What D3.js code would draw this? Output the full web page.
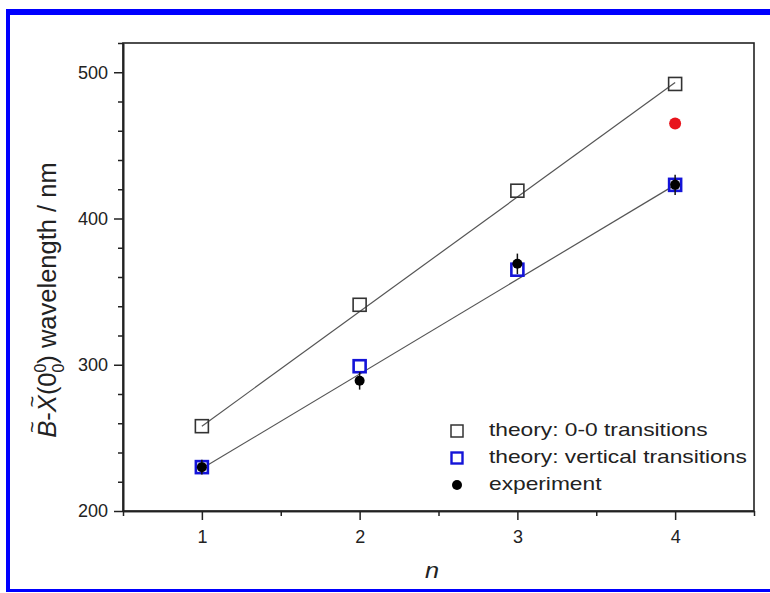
<!DOCTYPE html>
<html><head><meta charset="utf-8">
<script src="https://cdn.jsdelivr.net/npm/d3@7"></script>
<style>
body{margin:0;background:#fff;}
svg{display:block;}
text{font-family:"Liberation Sans",Arial,Helvetica,sans-serif;fill:#222;}
</style>
</head><body>
<svg id="chart" width="770" height="593"></svg>
<script>
// ---------- data ----------
const nValues = [1, 2, 3, 4];
const theory00 = [258, 341, 419, 492];
const theoryVert = [230, 299, 365, 423];
const experiment = [230, 289, 369, 423];
const experimentErr = [5, 6, 7, 7];
const redN = [4];
const redValue = [465];
const fit00N = [1, 4];
const fit00Values = [258, 493];
const fitVertN = [1, 4];
const fitVertValues = [229, 423];
const xTickValues = [1, 2, 3, 4];
const xMinorTickValues = [0.5, 1.5, 2.5, 3.5, 4.5];
const yTickValues = [200, 300, 400, 500];
const yMinorTickValues = [220, 240, 260, 280, 320, 340, 360, 380, 420, 440, 460, 480, 520];
const legendLabels = ["theory: 0-0 transitions", "theory: vertical transitions", "experiment"];

// ---------- layout ----------
const svg = d3.select("#chart");
const L = 123, R = 754, T = 43, B = 511;
const x = d3.scaleLinear().domain([0.5, 4.5]).range([L, R]);
const y = d3.scaleLinear().domain([200, 520]).range([B, T]);
const axisColor = "#222";

// blue page border
svg.append("rect").attr("x", 6).attr("y", 9).attr("width", 770).attr("height", 6).attr("fill", "#0000ff");
svg.append("rect").attr("x", 6).attr("y", 9).attr("width", 4).attr("height", 583).attr("fill", "#0000ff");
svg.append("rect").attr("x", 6).attr("y", 589).attr("width", 770).attr("height", 3).attr("fill", "#0000ff");

// frame
svg.append("rect").attr("x", L).attr("y", T).attr("width", R - L).attr("height", B - T)
  .attr("fill", "none").attr("stroke", axisColor).attr("stroke-width", 1.6);

// axes
function styleAxis(g) {
  g.select(".domain").attr("stroke", axisColor).attr("stroke-width", 1.6);
  g.selectAll(".tick line").attr("stroke", axisColor).attr("stroke-width", 1.5);
  g.selectAll(".tick text").attr("font-size", 18).attr("fill", "#222")
    .attr("font-family", '"Liberation Sans",Arial,sans-serif');
}
const yAxis = svg.append("g").attr("transform", `translate(${L},0)`)
  .call(d3.axisLeft(y).tickValues(yTickValues).tickSize(9).tickSizeOuter(0).tickPadding(6).tickFormat(d3.format("d")));
styleAxis(yAxis);
const yMinor = svg.append("g").attr("transform", `translate(${L},0)`)
  .call(d3.axisLeft(y).tickValues(yMinorTickValues).tickSize(5).tickSizeOuter(0).tickFormat(""));
styleAxis(yMinor);

const xAxis = svg.append("g").attr("transform", `translate(0,${B})`)
  .call(d3.axisBottom(x).tickValues(xTickValues).tickSize(9).tickSizeOuter(0).tickPadding(10).tickFormat(d3.format("d")));
styleAxis(xAxis);
const xMinor = svg.append("g").attr("transform", `translate(0,${B})`)
  .call(d3.axisBottom(x).tickValues(xMinorTickValues).tickSize(5).tickSizeOuter(0).tickFormat(""));
styleAxis(xMinor);

// fit lines
const line = d3.line().x(d => x(d[0])).y(d => y(d[1]));
svg.append("path").datum(d3.zip(fit00N, fit00Values)).attr("d", line)
  .attr("fill", "none").attr("stroke", "#555").attr("stroke-width", 1.2);
svg.append("path").datum(d3.zip(fitVertN, fitVertValues)).attr("d", line)
  .attr("fill", "none").attr("stroke", "#555").attr("stroke-width", 1.2);

// markers
const sq = 13;
svg.append("g").selectAll("rect").data(d3.zip(nValues, theory00)).join("rect")
  .attr("x", d => x(d[0]) - sq / 2).attr("y", d => y(d[1]) - sq / 2)
  .attr("width", sq).attr("height", sq)
  .attr("fill", "none").attr("stroke", "#333").attr("stroke-width", 1.6);

svg.append("g").selectAll("rect").data(d3.zip(nValues, theoryVert)).join("rect")
  .attr("x", d => x(d[0]) - 6).attr("y", d => y(d[1]) - 6)
  .attr("width", 12).attr("height", 12)
  .attr("fill", "none").attr("stroke", "#1414d8").attr("stroke-width", 2.6);

const expData = nValues.map((n, i) => ({n, v: experiment[i], e: experimentErr[i]}));
svg.append("g").selectAll("line").data(expData).join("line")
  .attr("x1", d => x(d.n)).attr("x2", d => x(d.n))
  .attr("y1", d => y(d.v - d.e)).attr("y2", d => y(d.v + d.e))
  .attr("stroke", "#111").attr("stroke-width", 1.5);
svg.append("g").selectAll("circle").data(expData).join("circle")
  .attr("cx", d => x(d.n)).attr("cy", d => y(d.v)).attr("r", 5).attr("fill", "#000");

svg.append("g").selectAll("circle").data(d3.zip(redN, redValue)).join("circle")
  .attr("cx", d => x(d[0])).attr("cy", d => y(d[1])).attr("r", 6).attr("fill", "#e8141c");

// legend
const legX = 457, legTextX = 489, legBase = [436, 463, 490];
const sx = 1.23;
legendLabels.forEach((lab, i) => {
  const cy = legBase[i] - 5;
  if (i === 0) {
    svg.append("rect").attr("x", legX - 6).attr("y", cy - 6).attr("width", 12).attr("height", 12)
      .attr("fill", "none").attr("stroke", "#333").attr("stroke-width", 1.5);
  } else if (i === 1) {
    svg.append("rect").attr("x", legX - 5.5).attr("y", cy - 5.5).attr("width", 11).attr("height", 11)
      .attr("fill", "none").attr("stroke", "#1414d8").attr("stroke-width", 2.4);
  } else {
    svg.append("circle").attr("cx", legX).attr("cy", cy).attr("r", 5).attr("fill", "#000");
  }
  svg.append("text").attr("transform", `translate(${legTextX},${legBase[i]}) scale(${sx},1)`)
    .attr("font-size", 18.5).text(lab);
});

// x label
svg.append("text").attr("transform", `translate(432,578) scale(1.15,1)`)
  .attr("text-anchor", "middle").attr("font-size", 22).attr("font-style", "italic").text("n");

// y label
const yl = svg.append("g").attr("transform", "translate(56,300) rotate(-90)");
const inner = yl.append("g");
const fs = 25.5;
const t = inner.append("text").attr("font-size", fs);
t.append("tspan").attr("font-style", "italic").text("B");
t.append("tspan").text("-");
t.append("tspan").attr("font-style", "italic").text("X");
t.append("tspan").text("(0");
t.append("tspan").attr("font-size", fs * 0.62).attr("dy", -fs * 0.4).text("0");
t.append("tspan").attr("font-size", fs * 0.62).attr("dx", -fs * 0.62 * 0.556).attr("dy", fs * 0.72).text("0");
t.append("tspan").attr("dy", -fs * 0.32).text(")");
t.append("tspan").text(" wavelength / nm");
const tn = t.node();
[0, 2].forEach(ci => {
  const ext = tn.getExtentOfChar(ci);
  inner.append("text").attr("x", ext.x + ext.width / 2 + 2).attr("y", -fs * 0.68)
    .attr("text-anchor", "middle").attr("font-size", fs * 0.78).text("~");
});
const bb = t.node().getBBox();
inner.attr("transform", `translate(${-bb.x - bb.width / 2},0)`);
</script>
</body></html>
